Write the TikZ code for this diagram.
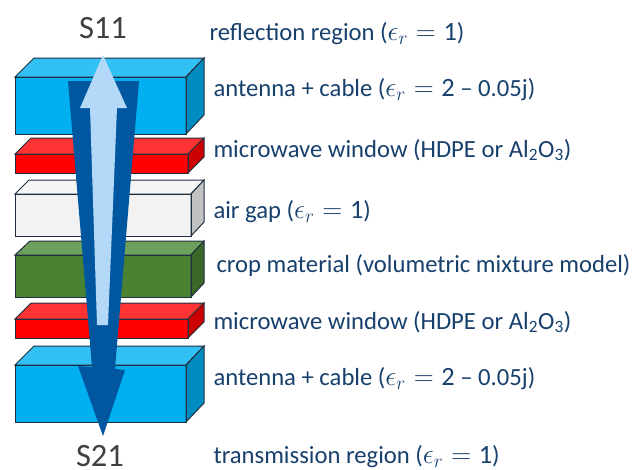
\documentclass[tikz,border=0pt]{standalone}
\usepackage{fontspec}
\setmainfont{Carlito}
\definecolor{txt}{HTML}{17406D}
\definecolor{sgray}{HTML}{404040}
\definecolor{edgec}{HTML}{1F2F3F}
\definecolor{darkarrow}{HTML}{0057A0}
\definecolor{lightarrow}{HTML}{B4D8F8}
\newcommand{\layerbox}[9]{%
  \fill[#7] (15,#2) rectangle (#1,#5);
  \filldraw[draw=edgec,fill=#8] (15,#2) -- (#3,#4) -- (204,#4) -- (#1,#2) -- cycle;
  \filldraw[draw=edgec,fill=#9] (#1,#2) -- (204,#4) -- (204,#6) -- (#1,#5) -- cycle;
  \draw[edgec] (15,#2) rectangle (#1,#5);
}
\tikzset{lab/.style={anchor=base west,inner sep=0pt,text=txt,font=\fontsize{18.5pt}{20pt}\selectfont},
  sname/.style={inner sep=0pt,text=sgray,font=\fontsize{24.4pt}{26pt}\selectfont}}
\newcommand{\erp}[1]{{\fontsize{19.8pt}{22pt}\selectfont$\epsilon_r = \mathrm{#1}$}}
\begin{document}
\begin{tikzpicture}[x=0.75pt,y=-0.75pt,line width=0.75pt]
\useasboundingbox (0,0) rectangle (632,469);
\definecolor{bf}{HTML}{00B0F0}\definecolor{bt}{HTML}{33C0F5}\definecolor{bs}{HTML}{008CC0}
\definecolor{rf}{HTML}{FF0000}\definecolor{rt}{HTML}{FF3333}\definecolor{rs}{HTML}{CC0000}
\definecolor{gf}{HTML}{F2F2F2}\definecolor{gt}{HTML}{F5F5F5}\definecolor{gs}{HTML}{C2C2C2}
\definecolor{vf}{HTML}{4A8234}\definecolor{vt}{HTML}{6EA05D}\definecolor{vs}{HTML}{3B6829}
\layerbox{186}{77}{34}{58}{134}{115}{bf}{bt}{bs}
\layerbox{188}{154}{31}{138}{173}{157}{rf}{rt}{rs}
\layerbox{191}{194}{29}{180}{236}{222}{gf}{gt}{gs}
\layerbox{191}{255}{30}{241}{297}{283}{vf}{vt}{vs}
\layerbox{188}{319}{31}{303}{338}{322}{rf}{rt}{rs}
\layerbox{186}{365}{34}{346}{422}{403}{bf}{bt}{bs}
\fill[darkarrow] (68,81) -- (139,81) -- (115,369) -- (125,370) -- (103,436) -- (78,366) -- (92,367) -- cycle;
\fill[lightarrow] (103,55) -- (127,108) -- (117,108) -- (108,325) -- (97,325) -- (90,108) -- (80,108) -- cycle;
\node[sname] (s11) at (103,28) {S11};
\node[sname] (s21) at (100,456.5) {S21};
\node[lab] (l1) at (209,40) {reflection region (\erp{1})};
\node[lab] (l2) at (213,96) {antenna + cable (\erp{2} – 0.05j)};
\node[lab] (l3) at (213,157) {microwave window (HDPE or Al\textsubscript{2}O\textsubscript{3})};
\node[lab] (l4) at (213,218) {air gap (\erp{1})};
\node[lab] (l5) at (216,272) {crop material (volumetric mixture model)};
\node[lab] (l6) at (213,329) {microwave window (HDPE or Al\textsubscript{2}O\textsubscript{3})};
\node[lab] (l7) at (213,385) {antenna + cable (\erp{2} – 0.05j)};
\node[lab] (l8) at (213,463.5) {transmission region (\erp{1})};
\end{tikzpicture}
\end{document}
